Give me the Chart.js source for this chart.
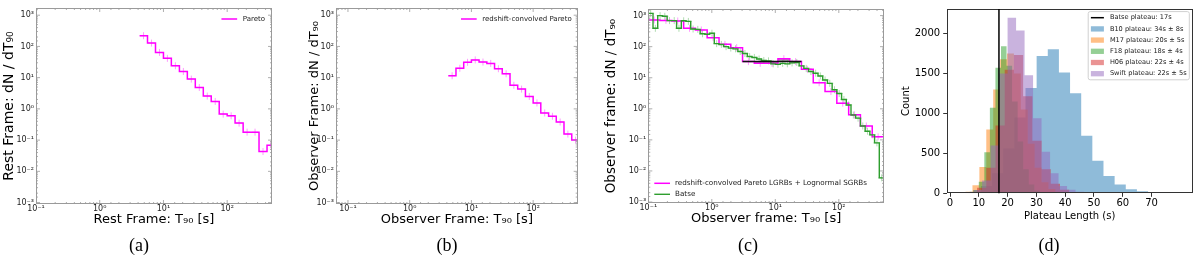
<!DOCTYPE html>
<html>
<head>
<meta charset="utf-8">
<script src="https://cdn.jsdelivr.net/npm/chart.js@4.4.0/dist/chart.umd.min.js"></script>
<style>
  body { margin: 0; background: #fff; }
  #fig { position: relative; width: 1200px; height: 264px; overflow: hidden; }
  #fig canvas { position: absolute; top: 0; }
  .cap { position: absolute; top: 234px; font: 18px 'Liberation Serif', serif; line-height: 22px; transform: translateX(-50%); color: #000; }
</style>
</head>
<body>
<div id="fig">
  <canvas id="panelA" width="300" height="264" style="left:0"></canvas>
  <canvas id="panelB" width="300" height="264" style="left:300px"></canvas>
  <canvas id="panelC" width="300" height="264" style="left:600px"></canvas>
  <canvas id="panelD" width="300" height="264" style="left:900px"></canvas>
  <div class="cap" style="left:139px">(a)</div>
  <div class="cap" style="left:447px">(b)</div>
  <div class="cap" style="left:748px">(c)</div>
  <div class="cap" style="left:1049px">(d)</div>
</div>
<script>
// ---- data ----
// (a) and (b) share the same 1/8-decade bins
const binEdgesAB = [4.22, 5.62, 7.50, 10.0, 13.3, 17.8, 23.7, 31.6, 42.2, 56.2, 75.0, 100, 133, 178, 237, 316, 422, 562];
const restFrameRate = [220, 128, 64, 41.5, 24, 15.8, 9.0, 4.85, 2.57, 1.73, 0.68, 0.60, 0.35, 0.18, 0.18, 0.043, 0.068];
const observerFrameRate = [11.5, 20, 31, 37, 31.6, 28.6, 19.3, 13.3, 5.7, 4.3, 2.5, 1.55, 0.74, 0.58, 0.38, 0.156, 0.10];

// (c) model (20 log bins) and Batse (50 log bins)
const modelEdgesC = [0.1, 0.153, 0.235, 0.360, 0.552, 0.846, 1.30, 1.99, 3.05, 4.67, 7.17, 11.0, 16.9, 25.8, 39.6, 60.7, 93.1, 143, 219, 336, 515];
const modelRate = [720, 700, 670, 390, 345, 195, 119, 93, 33, 29, 29, 41, 33, 18.7, 6.9, 3.6, 1.52, 0.64, 0.28, 0.125];
const batseRange = [0.1, 515];
const batseRate = [1180, 390, 1000, 950, 690, 690, 390, 680, 650, 370,
                   360, 260, 250, 270, 125, 118, 100, 90, 85, 70,
                   60, 48, 45, 40, 36, 35, 28, 27, 29, 28,
                   30, 31, 24, 20, 15.8, 14, 11.4, 8.5, 6.6, 4.1,
                   3.1, 2.0, 1.33, 0.63, 0.50, 0.28, 0.19, 0.145, 0.08, 0.006];
const plateauLevelC = 33;

// (d) plateau length histograms
const plateauLabels = ['B10 plateau: 34s ± 8s', 'M17 plateau: 20s ± 5s', 'F18 plateau: 18s ± 4s', 'H06 plateau: 22s ± 4s', 'Swift plateau: 22s ± 5s'];
const binStarts = [3.0, 3.0, 4.2, 3.0, 2.3];
const binWidths = [3.87, 2.4, 1.93, 3.2, 2.95];
const b10Counts = [3, 20, 90, 250, 560, 950, 1320, 1720, 1806, 1513, 1254, 722, 408, 218, 111, 50, 25, 12, 5, 2];
const m17Counts = [3, 20, 100, 330, 800, 1300, 1680, 1753, 1500, 1050, 620, 320, 140, 55, 20, 7, 3, 1, 0, 1];
const f18Counts = [2, 10, 41, 144, 515, 1072, 1575, 1844, 1600, 1150, 650, 300, 110, 35, 10, 3, 1, 0, 0, 1];
const h06Counts = [2, 12, 70, 320, 850, 1550, 1732, 1216, 660, 300, 120, 45, 15, 5, 2, 1, 0, 0, 0, 1];
const swiftCounts = [2, 8, 40, 160, 600, 1500, 2200, 2040, 1480, 940, 520, 250, 90, 45, 18, 7, 3, 1, 0, 1];
const batsePlateau = 17;
const lengthTicks = [0, 10, 20, 30, 40, 50, 60, 70];
const countTicks = [0, 500, 1000, 1500, 2000];
const decadeLabels = ['10⁻³', '10⁻²', '10⁻¹', '10⁰', '10¹', '10²', '10³'];

// ---- helpers ----
Chart.defaults.font.family = "'DejaVu Sans', sans-serif";

function isDecade(v) {
    const e = Math.log10(v);
    return Math.abs(e - Math.round(e)) < 1e-6;
}
function decadeLabel(v) {
    if (!isDecade(v)) return '';
    const e = Math.round(Math.log10(v));
    return decadeLabels[e + 3] || '';
}
function logEdges(lo, hi, n) {
    const a = Math.log10(lo), b = Math.log10(hi);
    const edges = [];
    for (let i = 0; i <= n; i++) edges.push(Math.pow(10, a + (b - a) * i / n));
    return edges;
}
function linEdges(start, width, n) {
    const edges = [];
    for (let i = 0; i <= n; i++) edges.push(start + width * i);
    return edges;
}
// histogram as a step line: one point per edge, last value repeated
function stepPoints(edges, values) {
    return edges.map((e, i) => ({ x: e, y: values[Math.min(i, values.length - 1)] }));
}
function centrePoints(edges, values) {
    return values.map((v, i) => ({ x: Math.sqrt(edges[i] * edges[i + 1]), y: v }));
}

// frame round the plot area, with inward ticks for the log panels
const framePlugin = {
    id: 'frame',
    afterDatasetsDraw(chart, args, o) {
        const { ctx, chartArea: a, scales } = chart;
        ctx.save();
        if (o.innerTicks) {
            ctx.strokeStyle = o.tickColor;
            ctx.lineWidth = 0.8;
            ctx.beginPath();
            scales.x.ticks.forEach(t => {
                const p = scales.x.getPixelForValue(t.value);
                if (p <= a.left + 0.5 || p >= a.right - 0.5) return;
                const len = isDecade(t.value) ? 4 : 2;
                ctx.moveTo(p, a.bottom); ctx.lineTo(p, a.bottom - len);
                ctx.moveTo(p, a.top); ctx.lineTo(p, a.top + len);
            });
            scales.y.ticks.forEach(t => {
                const p = scales.y.getPixelForValue(t.value);
                if (p <= a.top + 0.5 || p >= a.bottom - 0.5) return;
                const len = isDecade(t.value) ? 4 : 2;
                ctx.moveTo(a.left, p); ctx.lineTo(a.left + len, p);
                ctx.moveTo(a.right, p); ctx.lineTo(a.right - len, p);
            });
            ctx.stroke();
        }
        ctx.strokeStyle = o.color;
        ctx.lineWidth = o.width;
        ctx.strokeRect(Math.round(a.left) + 0.5, Math.round(a.top) + 0.5,
            Math.round(a.right - a.left) - 1, Math.round(a.bottom - a.top) - 1);
        ctx.restore();
    }
};

// legend drawn inside the plot area, matplotlib style
const cornerLegend = {
    id: 'cornerLegend',
    afterDraw(chart, args, o) {
        const items = chart.data.datasets.filter(d => d.legend);
        if (!items.length) return;
        const { ctx, chartArea: a } = chart;
        ctx.save();
        ctx.font = o.size + "px 'DejaVu Sans'";
        const textW = Math.max(...items.map(d => ctx.measureText(d.label).width));
        const w = 2 * o.padX + o.sample + o.gap + textW;
        const h = 2 * o.padY + items.length * o.row;
        const x0 = o.corner === 'tr' ? a.right - o.dx - w : a.left + o.dx;
        const y0 = o.corner === 'tr' ? a.top + o.dy : a.bottom - o.dy - h;
        if (o.box) {
            ctx.beginPath();
            ctx.roundRect(x0, y0, w, h, 2);
            ctx.fillStyle = 'rgba(255,255,255,0.8)';
            ctx.fill();
            ctx.strokeStyle = '#d0d0d0';
            ctx.lineWidth = 1;
            ctx.stroke();
        }
        items.forEach((d, i) => {
            const cy = y0 + o.padY + o.row * (i + 0.5);
            const sx = x0 + o.padX;
            if (d.legend === 'patch') {
                ctx.fillStyle = d.backgroundColor;
                ctx.fillRect(sx, cy - o.patchH / 2, o.sample, o.patchH);
            } else {
                ctx.strokeStyle = d.borderColor;
                ctx.lineWidth = d.borderWidth;
                ctx.beginPath();
                ctx.moveTo(sx, cy);
                ctx.lineTo(sx + o.sample, cy);
                ctx.stroke();
            }
            ctx.fillStyle = '#1a1a1a';
            ctx.textBaseline = 'middle';
            ctx.textAlign = 'left';
            ctx.fillText(d.label, sx + o.sample + o.gap, cy);
        });
        ctx.restore();
    }
};

// vertical reference line at a data value
const vlinePlugin = {
    id: 'vline',
    afterDatasetsDraw(chart, args, o) {
        const { ctx, chartArea: a, scales } = chart;
        const p = scales.x.getPixelForValue(o.value);
        ctx.save();
        ctx.strokeStyle = o.color;
        ctx.lineWidth = o.width;
        ctx.beginPath();
        ctx.moveTo(p, a.top);
        ctx.lineTo(p, a.bottom);
        ctx.stroke();
        ctx.restore();
    }
};

const MAGENTA = '#ff00ff';
const MAGENTA_ERR = 'rgba(255,0,255,0.4)';
const GREEN = '#2e9e2e';
const GREEN_ERR = 'rgba(60,170,60,0.4)';

// 'before' = horizontal at the previous value, then vertical: matches a histogram step
function stepLine(label, edges, values, color, extra) {
    return Object.assign({
        label: label, data: stepPoints(edges, values), stepped: 'before',
        borderColor: color, borderWidth: 1.5, pointRadius: 0, fill: false
    }, extra || {});
}
function errorMarks(edges, values, color, order) {
    return {
        label: '', data: centrePoints(edges, values), showLine: false,
        pointStyle: 'cross', pointRadius: 3.5, pointBorderWidth: 1,
        borderColor: color, pointBorderColor: color, order: order
    };
}

// log-log panels (a), (b), (c)
function logPanel(id, cfg) {
    return new Chart(document.getElementById(id), {
        type: 'line',
        data: { datasets: cfg.datasets },
        options: {
            responsive: false,
            animation: false,
            events: [],
            layout: { autoPadding: false, padding: { top: cfg.top, right: cfg.right, left: 0, bottom: 0 } },
            plugins: {
                legend: { display: false },
                tooltip: { enabled: false },
                frame: { color: '#9a9a9a', width: 1, innerTicks: true, tickColor: '#9a9a9a' },
                cornerLegend: cfg.legend
            },
            scales: {
                x: {
                    type: 'logarithmic', min: cfg.xMin, max: cfg.xMax,
                    grid: { display: false, drawTicks: false }, border: { display: false },
                    ticks: { autoSkip: false, maxRotation: 0, padding: 0, color: '#222', font: { size: 8 }, callback: decadeLabel },
                    title: { display: true, text: cfg.xTitle, color: '#000', font: { size: 13 }, padding: { top: 0, bottom: cfg.xTitlePad } },
                    afterFit: s => { s.height = cfg.xHeight; }
                },
                y: {
                    type: 'logarithmic', min: cfg.yMin, max: cfg.yMax,
                    grid: { display: false, drawTicks: false }, border: { display: false },
                    ticks: { autoSkip: false, padding: 2, color: '#222', font: { size: 8 }, callback: decadeLabel },
                    title: { display: true, text: cfg.yTitle, color: '#000', font: { size: cfg.yTitleSize }, padding: { top: cfg.yTitlePad, bottom: 0 } },
                    afterFit: s => { s.width = cfg.yWidth; }
                }
            }
        },
        plugins: [framePlugin, cornerLegend]
    });
}

// (a)
logPanel('panelA', {
    datasets: [
        stepLine('Pareto', binEdgesAB, restFrameRate, MAGENTA, { legend: 'line', order: 1 }),
        errorMarks(binEdgesAB, restFrameRate, MAGENTA_ERR, 2)
    ],
    xMin: 0.1, xMax: 505, yMin: 9e-4, yMax: 1700,
    top: 8, right: 28, yWidth: 36, xHeight: 60,
    xTitle: 'Rest Frame: T₉₀ [s]', xTitlePad: 36.2,
    yTitle: 'Rest Frame: dN / dT₉₀', yTitleSize: 14, yTitlePad: 0.6,
    legend: { corner: 'tr', size: 7, sample: 15.7, gap: 5.6, row: 10, padX: 0, padY: 0, dx: 7, dy: 6 }
});

// (b)
logPanel('panelB', {
    datasets: [
        stepLine('redshift-convolved Pareto', binEdgesAB, observerFrameRate, MAGENTA, { legend: 'line', order: 1 }),
        errorMarks(binEdgesAB, observerFrameRate, MAGENTA_ERR, 2)
    ],
    xMin: 0.064, xMax: 527, yMin: 9e-4, yMax: 1700,
    top: 8, right: 22.3, yWidth: 36, xHeight: 60,
    xTitle: 'Observer Frame: T₉₀ [s]', xTitlePad: 36.2,
    yTitle: 'Observer Frame: dN / dT₉₀', yTitleSize: 13, yTitlePad: 7.2,
    legend: { corner: 'tr', size: 7, sample: 15.7, gap: 5.6, row: 10, padX: 0, padY: 0, dx: 6, dy: 6 }
});

// (c)
const batseEdges = logEdges(batseRange[0], batseRange[1], batseRate.length);
logPanel('panelC', {
    datasets: [
        // grey band between the model and the plateau line (bins 8-12)
        stepLine('', modelEdgesC.slice(8, 14), modelRate.slice(8, 13), 'transparent', {
            borderWidth: 0, order: 4,
            fill: { target: 3, above: 'rgba(90,90,90,0.55)', below: 'rgba(90,90,90,0.55)' }
        }),
        stepLine('redshift-convolved Pareto LGRBs + Lognormal SGRBs', modelEdgesC, modelRate, MAGENTA, { legend: 'line', order: 2 }),
        stepLine('Batse', batseEdges, batseRate, GREEN, { legend: 'line', borderWidth: 1.4, order: 1 }),
        {
            label: '', data: [{ x: modelEdgesC[8], y: plateauLevelC }, { x: modelEdgesC[13], y: plateauLevelC }],
            borderColor: '#111', borderWidth: 1.5, pointRadius: 0, order: 0
        },
        errorMarks(modelEdgesC, modelRate, MAGENTA_ERR, 5),
        errorMarks(batseEdges, batseRate, GREEN_ERR, 5)
    ],
    xMin: 0.1, xMax: 515, yMin: 9.3e-4, yMax: 1630,
    top: 9, right: 16, yWidth: 48.3, xHeight: 61,
    xTitle: 'Observer frame: T₉₀ [s]', xTitlePad: 37.2,
    yTitle: 'Observer frame: dN / dT₉₀', yTitleSize: 13.5, yTitlePad: 3.6,
    legend: { corner: 'bl', size: 7.2, sample: 15.7, gap: 5, row: 11, padX: 0, padY: 0, dx: 6, dy: 3.2 }
});

// (d)
const plateauCounts = [b10Counts, m17Counts, f18Counts, h06Counts, swiftCounts];
const plateauColors = ['rgba(31,119,180,0.5)', 'rgba(255,127,14,0.5)', 'rgba(44,160,44,0.5)', 'rgba(214,39,40,0.5)', 'rgba(148,103,189,0.5)'];
const histDatasets = plateauCounts.map((counts, i) => ({
    label: plateauLabels[i],
    data: stepPoints(linEdges(binStarts[i], binWidths[i], counts.length), counts),
    stepped: 'before', fill: 'origin',
    backgroundColor: plateauColors[i], borderColor: 'transparent', borderWidth: 0,
    pointRadius: 0, legend: 'patch', order: plateauCounts.length - i
}));

new Chart(document.getElementById('panelD'), {
    type: 'line',
    data: {
        datasets: [
            { label: 'Batse plateau: ' + batsePlateau + 's', data: [], borderColor: '#000', borderWidth: 1.5, pointRadius: 0, legend: 'line' }
        ].concat(histDatasets)
    },
    options: {
        responsive: false,
        animation: false,
        events: [],
        layout: { autoPadding: false, padding: { top: 6.7, right: 7.3, left: 0, bottom: 0 } },
        plugins: {
            legend: { display: false },
            tooltip: { enabled: false },
            frame: { color: '#333', width: 1, innerTicks: false },
            vline: { value: batsePlateau, color: '#000', width: 1.5 },
            cornerLegend: { corner: 'tr', box: true, size: 6.6, sample: 13, gap: 6, row: 11.2, padX: 2.7, padY: 0.5, dx: 3.4, dy: 2.6, patchH: 5.3 }
        },
        scales: {
            x: {
                type: 'linear', min: -1.15, max: 84.3,
                afterBuildTicks: s => { s.ticks = lengthTicks.map(v => ({ value: v })); },
                grid: { drawOnChartArea: false, drawTicks: true, tickLength: 3.5, color: '#333' },
                border: { display: false },
                ticks: { autoSkip: false, maxRotation: 0, padding: 1, color: '#000', font: { size: 10 }, callback: v => String(v) },
                title: { display: true, text: 'Plateau Length (s)', color: '#000', font: { size: 10 }, padding: { top: 0, bottom: 42 } },
                afterFit: s => { s.height = 70.7; }
            },
            y: {
                type: 'linear', min: 0, max: 2310,
                afterBuildTicks: s => { s.ticks = countTicks.map(v => ({ value: v })); },
                grid: { drawOnChartArea: false, drawTicks: true, tickLength: 3.5, color: '#333' },
                border: { display: false },
                ticks: { autoSkip: false, padding: 3, color: '#000', font: { size: 10 }, callback: v => String(v) },
                title: { display: true, text: 'Count', color: '#000', font: { size: 10 }, padding: { top: 0.7, bottom: 0 } },
                afterFit: s => { s.width = 46.7; }
            }
        }
    },
    plugins: [framePlugin, vlinePlugin, cornerLegend]
});
</script>
</body>
</html>
